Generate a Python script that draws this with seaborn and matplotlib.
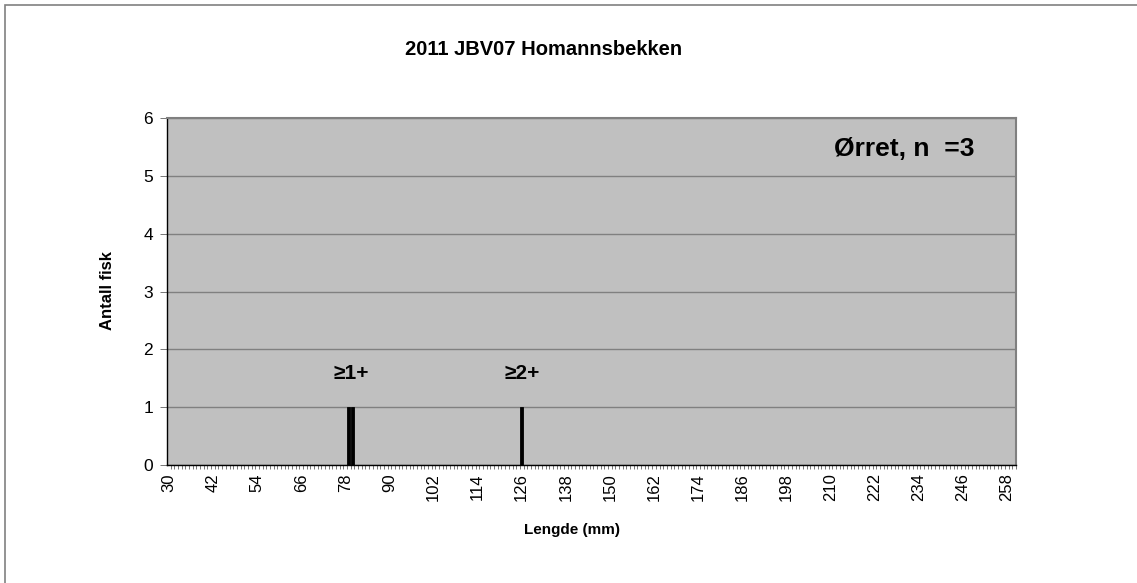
import numpy as np
import pandas as pd
import matplotlib
matplotlib.use("Agg")
import matplotlib.pyplot as plt
import seaborn as sns
from matplotlib.patches import Rectangle

# lengths (mm) of the measured fish
fish_lengths = [79, 80, 126]
length_classes = list(range(30, 261))
tick_labels = [str(v) for v in range(30, 259, 12)]
age_labels = ["≥1+", "≥2+"]
age_label_pos = [79.5, 126]

counts = pd.Series(fish_lengths).value_counts().reindex(length_classes, fill_value=0)
df = pd.DataFrame({"lengde": [str(c) for c in length_classes], "antall": counts.values})

sns.set_theme(style="white")
plt.rcParams['font.family'] = ['Liberation Sans', 'DejaVu Sans']
plt.rcParams['text.color'] = 'black'
plt.rcParams['axes.labelcolor'] = 'black'
plt.rcParams['xtick.color'] = 'black'
plt.rcParams['ytick.color'] = 'black'

fig = plt.figure(figsize=(11.37, 5.83), dpi=100)
ax = fig.add_axes([0.1469, 0.2024, 0.8936 - 0.1469, 0.7976 - 0.2024])
ax.set_facecolor('#C0C0C0')

sns.barplot(data=df, x="lengde", y="antall", order=df["lengde"], color='black',
            width=0.8, edgecolor='black', linewidth=0.6, saturation=1, ax=ax, zorder=3)

ax.set_xlim(-0.5, len(length_classes) - 0.5)
ax.set_ylim(0, 6)
ax.set_yticks(range(0, 7))
ax.yaxis.grid(True, color='#808080', linewidth=1)
ax.set_axisbelow(True)

major_pos = [length_classes.index(int(t)) for t in tick_labels]
ax.set_xticks(major_pos)
ax.set_xticklabels(tick_labels, rotation=90, fontsize=12)
ax.set_xticks(np.arange(len(length_classes)) + 0.5, minor=True)
ax.tick_params(axis='x', which='minor', length=3, width=0.6, color='#606060', direction='out', bottom=True)
ax.tick_params(axis='x', which='major', length=0, pad=6)
ax.tick_params(axis='y', which='major', length=5, width=0.6, color='#606060', direction='out',
               left=True, labelsize=12.5, pad=5)

for side in ['left', 'bottom']:
    ax.spines[side].set_color('black')
    ax.spines[side].set_linewidth(1)
for side in ['top', 'right']:
    ax.spines[side].set_color('#808080')
    ax.spines[side].set_linewidth(1.5)

ax.set_xlabel('Lengde (mm)', fontsize=11, fontweight='bold')
ax.xaxis.set_label_coords(0.477, -0.187)
ax.xaxis.label.set_va('center')
ax.set_ylabel('Antall fisk', fontsize=12, fontweight='bold')
ax.yaxis.set_label_coords(-0.0707, 0.504)
ax.yaxis.label.set_va('center')

for lab, pos in zip(age_labels, age_label_pos):
    ax.text(length_classes.index(int(pos)) + (pos % 1), 1.58, lab, ha='center', va='center',
            fontsize=15, fontweight='bold')

ax.text(0.951, 0.91, 'Ørret, n  =3', transform=ax.transAxes, ha='right', va='center',
        fontsize=19, fontweight='bold')

fig.text(0.478, 0.915, '2011 JBV07 Homannsbekken', ha='center', va='center',
         fontsize=14.5, fontweight='bold')

fig.patches.append(Rectangle((5 / 1137, -0.1), 1.2, 1 - 5 / 583 + 0.1, transform=fig.transFigure,
                             fill=False, edgecolor='#808080', linewidth=1.2))

fig.savefig('out.png', dpi=100)
plt.close(fig)
